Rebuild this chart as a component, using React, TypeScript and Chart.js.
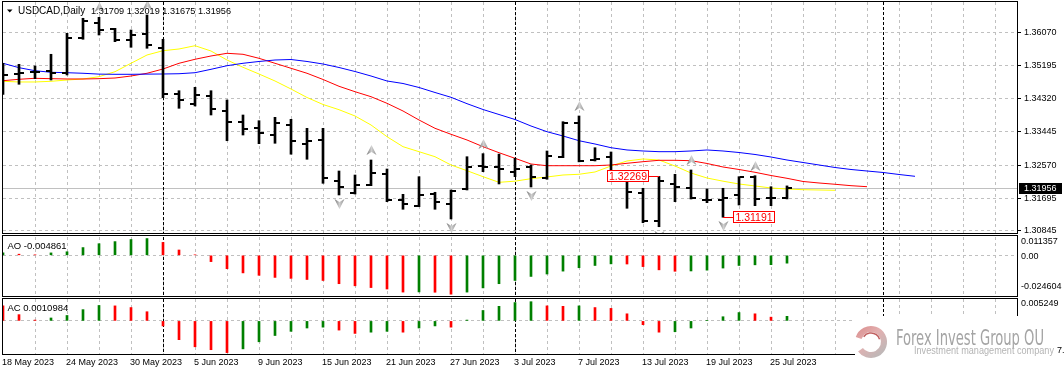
import React, { useEffect, useRef } from 'react';
import { Chart, registerables } from 'chart.js';

Chart.register(...registerables);

const FONT = "'Liberation Sans', Arial, sans-serif";
const GRID = '#c0c0c0';
const UP = '#008000';
const DOWN = '#ff0000';

const SYMBOL = 'USDCAD';
const TIMEFRAME = 'Daily';

// one label every 4 bars, starting at bar 0
const dateLabels = ['18 May 2023', '24 May 2023', '30 May 2023', '5 Jun 2023', '9 Jun 2023', '15 Jun 2023', '21 Jun 2023', '27 Jun 2023', '3 Jul 2023', '7 Jul 2023', '13 Jul 2023', '19 Jul 2023', '25 Jul 2023'];

const opens = [1.34938, 1.34991, 1.35039, 1.35065, 1.35012, 1.35938, 1.36334, 1.36160, 1.35877, 1.36036,
  1.35673, 1.34449, 1.34193, 1.34396, 1.34008, 1.33701, 1.33545, 1.33352, 1.33624, 1.33140,
  1.33225, 1.32157, 1.31839, 1.32043, 1.32326, 1.31646, 1.31496, 1.31805, 1.31541, 1.31929,
  1.32553, 1.32527, 1.32395, 1.32532, 1.32241, 1.32791, 1.33674, 1.32704, 1.32776, 1.32255,
  1.31839, 1.31091, 1.32062, 1.31972, 1.31646, 1.31650, 1.31779, 1.32263, 1.31691, 1.31709];
const highs = [1.35261, 1.35234, 1.35190, 1.35499, 1.36054, 1.36451, 1.36477, 1.36186, 1.36141, 1.36538,
  1.35896, 1.34536, 1.34626, 1.34536, 1.34291, 1.33894, 1.33743, 1.33833, 1.33780, 1.33542,
  1.33542, 1.32413, 1.32307, 1.32704, 1.32466, 1.31797, 1.32263, 1.31850, 1.31911, 1.32791,
  1.32872, 1.32860, 1.32749, 1.32572, 1.32942, 1.33717, 1.33868, 1.33029, 1.32916, 1.32263,
  1.31956, 1.32269, 1.32326, 1.32440, 1.31937, 1.31956, 1.32263, 1.32289, 1.31998, 1.32019];
const lows = [1.34441, 1.34706, 1.34854, 1.34819, 1.34952, 1.35896, 1.36009, 1.35832, 1.35684, 1.35658,
  1.34351, 1.34071, 1.34132, 1.33894, 1.33214, 1.33365, 1.33135, 1.33146, 1.32857, 1.32723,
  1.32088, 1.31779, 1.31805, 1.32025, 1.31602, 1.31401, 1.31469, 1.31401, 1.31144, 1.31911,
  1.32395, 1.32070, 1.32263, 1.31990, 1.32194, 1.32765, 1.32655, 1.32678, 1.32263, 1.31427,
  1.31046, 1.30940, 1.31602, 1.31673, 1.31575, 1.31191, 1.31514, 1.31496, 1.31496, 1.31675];
const closes = [1.34944, 1.35004, 1.35044, 1.35012, 1.35922, 1.36379, 1.36141, 1.35877, 1.36009, 1.35737,
  1.34449, 1.34291, 1.34423, 1.34045, 1.33709, 1.33532, 1.33410, 1.33688, 1.33199, 1.33199,
  1.32241, 1.31982, 1.32035, 1.32352, 1.31646, 1.31533, 1.31779, 1.31586, 1.31892, 1.32527,
  1.32527, 1.32474, 1.32458, 1.32247, 1.32810, 1.33674, 1.32665, 1.32723, 1.32281, 1.31850,
  1.31091, 1.32149, 1.31998, 1.31691, 1.31650, 1.31691, 1.32247, 1.31673, 1.31707, 1.31956];

// Alligator lines (already shifted into the future)
const jaw = [1.35261, 1.35145, 1.35065, 1.35023, 1.35012, 1.34997, 1.34975, 1.34970, 1.34970, 1.34975,
  1.34978, 1.34985, 1.35012, 1.35102, 1.35197, 1.35261, 1.35309, 1.35348, 1.35361, 1.35309,
  1.35242, 1.35150, 1.35044, 1.34925, 1.34793, 1.34727, 1.34621, 1.34489, 1.34362, 1.34193,
  1.34039, 1.33907, 1.33775, 1.33603, 1.33452, 1.33339, 1.33214, 1.33127, 1.33029, 1.32969,
  1.32942, 1.32924, 1.32924, 1.32942, 1.32969, 1.32942, 1.32902, 1.32850, 1.32783, 1.32704,
  1.32638, 1.32572, 1.32506, 1.32453, 1.32413, 1.32374, 1.32321, 1.32273];
const teeth = [1.34801, 1.34838, 1.34864, 1.34854, 1.34846, 1.34846, 1.34854, 1.34872, 1.34925, 1.34997,
  1.35110, 1.35261, 1.35367, 1.35454, 1.35525, 1.35499, 1.35393, 1.35261, 1.35129, 1.34997,
  1.34833, 1.34653, 1.34510, 1.34378, 1.34203, 1.34000, 1.33762, 1.33542, 1.33384, 1.33233,
  1.33056, 1.32897, 1.32749, 1.32598, 1.32553, 1.32553, 1.32553, 1.32553, 1.32572, 1.32617,
  1.32659, 1.32696, 1.32696, 1.32686, 1.32612, 1.32519, 1.32453, 1.32379, 1.32294, 1.32220,
  1.32136, 1.32096, 1.32062, 1.32025, 1.31998];
const lips = [1.34785, 1.34767, 1.34767, 1.34785, 1.34819, 1.34846, 1.34907, 1.35039, 1.35261, 1.35480,
  1.35594, 1.35639, 1.35726, 1.35586, 1.35348, 1.35155, 1.34978, 1.34793, 1.34581, 1.34357,
  1.34172, 1.34034, 1.33868, 1.33630, 1.33320, 1.33056, 1.32924, 1.32791, 1.32572, 1.32421,
  1.32263, 1.32114, 1.32144, 1.32210, 1.32255, 1.32307, 1.32326, 1.32387, 1.32545, 1.32678,
  1.32731, 1.32704, 1.32545, 1.32360, 1.32228, 1.32144, 1.32070, 1.32017, 1.31964, 1.31937,
  1.31919, 1.31911, 1.31903];

const aoValues = [0.0015, 0.0007, 0.0003, 0.0015, 0.0022, 0.0048, 0.0072, 0.0085, 0.0098, 0.0104,
  0.0080, 0.0033, 0.0003, -0.0039, -0.0083, -0.0109, -0.0124, -0.0137, -0.0143, -0.0150,
  -0.0156, -0.0176, -0.0189, -0.0200, -0.0209, -0.0228, -0.0227, -0.0229, -0.0241, -0.0228,
  -0.0202, -0.0176, -0.0156, -0.0131, -0.0116, -0.0098, -0.0077, -0.0063, -0.0053, -0.0054,
  -0.0070, -0.0090, -0.0099, -0.0097, -0.0092, -0.0079, -0.0063, -0.0059, -0.0058, -0.004861];
const acValues = [0.0036, 0.0015, 0.0002, 0.0007, 0.0013, 0.0027, 0.0037, 0.0036, 0.0032, 0.0022,
  -0.0012, -0.0045, -0.0062, -0.0069, -0.0076, -0.0067, -0.0050, -0.0035, -0.0025, -0.0017,
  -0.0015, -0.0022, -0.0030, -0.0027, -0.0025, -0.0027, -0.0017, -0.0012, -0.0015, 0.0002,
  0.0025, 0.0035, 0.0044, 0.0046, 0.0036, 0.0035, 0.0036, 0.0032, 0.0030, 0.0017,
  -0.0009, -0.0027, -0.0026, -0.0017, 0.0001, 0.0010, 0.0020, 0.0017, 0.0009, 0.0010984];
const aoFirstUp = true;
const acFirstUp = false;

const priceTicks = [1.36070, 1.35195, 1.34320, 1.33445, 1.32570, 1.31695, 1.30845];
const priceRange = [1.307738, 1.368817];
const aoRange = [-0.024604, 0.011357];
const acRange = [-0.00793, 0.005249];
const aoAxisLabels = ['0.011357', '0.00', '-0.024604'];
const acAxisLabels = ['0.005249'];

const fractalUpBars = [6, 9, 23, 30, 36, 43, 47];
const fractalDownBars = [21, 28, 33, 41, 45];
const monthStartBars = [10, 32, 55];
const swingHighBar = 41;
const swingLowBar = 45;

const LAST = closes.length - 1;
const currentPrice = closes[LAST];
const X_MAX = 63.375;
const AXIS_W = 47;

function zeroPad(s: any) {
  s.paddingTop = 0; s.paddingBottom = 0; s.paddingLeft = 0; s.paddingRight = 0;
}

function makeX(showLabels: boolean) {
  return {
    type: 'linear', min: 0, max: X_MAX, offset: false, display: true,
    afterBuildTicks: (s: any) => {
      const t: any[] = [];
      for (let v = 0; v <= 62; v += 2) t.push({ value: v });
      s.ticks = t;
    },
    afterFit: (s: any) => { s.height = showLabels ? 18 : 0; zeroPad(s); },
    grid: {
      color: (c: any) => (c.tick && c.tick.value === 0 ? 'rgba(0,0,0,0)' : GRID),
      lineWidth: 1, drawTicks: false, offset: false,
    },
    border: { display: false, dash: [3, 3] },
    ticks: showLabels
      ? {
          display: true, autoSkip: false, maxRotation: 0, minRotation: 0, align: 'start', padding: 3,
          labelOffset: -1,
          color: '#000', font: { family: FONT, size: 9 },
          callback: (v: any) => (v % 4 === 0 && dateLabels[v / 4]) ? dateLabels[v / 4] : '',
        }
      : { display: false },
  };
}

function makeYSub(range: number[]) {
  return {
    type: 'linear', position: 'right', min: range[0], max: range[1], beginAtZero: false, display: true,
    afterBuildTicks: (s: any) => { s.ticks = [{ value: 0 }]; },
    afterFit: (s: any) => { s.width = AXIS_W; zeroPad(s); },
    grid: { color: GRID, drawTicks: false },
    border: { display: false, dash: [3, 3] },
    ticks: { display: false },
  };
}

function drawBorder(ctx: CanvasRenderingContext2D, top: number, bottom: number) {
  ctx.fillStyle = '#000';
  ctx.fillRect(2, top, 1016, 1);
  ctx.fillRect(2, bottom, 1016, 1);
  ctx.fillRect(2, top, 1, bottom - top + 1);
  ctx.fillRect(1017, top, 1, bottom - top + 1);
}

function drawSeparators(chart: any) {
  const { ctx, chartArea: a, scales } = chart;
  ctx.save();
  ctx.strokeStyle = '#000';
  ctx.lineWidth = 1;
  ctx.setLineDash([3, 2]);
  for (const idx of monthStartBars) {
    const px = Math.round(scales.x.getPixelForValue(idx)) + 0.5;
    ctx.beginPath();
    ctx.moveTo(px, a.top);
    ctx.lineTo(px, a.bottom);
    ctx.stroke();
  }
  ctx.restore();
}

function tickImage(side: 'left' | 'right') {
  const c = document.createElement('canvas');
  c.width = 12; c.height = 2;
  const g = c.getContext('2d')!;
  g.fillStyle = '#000';
  g.fillRect(side === 'left' ? 1 : 7, 0, 4, 2);
  return c;
}

function arrowImage(dir: 'up' | 'down') {
  const c = document.createElement('canvas');
  c.width = 11; c.height = 30;
  const g = c.getContext('2d')!;
  g.beginPath();
  if (dir === 'up') {
    g.moveTo(5.5, 0); g.lineTo(10.5, 10); g.lineTo(5.5, 7); g.lineTo(0.5, 10);
  } else {
    const t = 19;
    g.moveTo(5.5, t + 10); g.lineTo(10.5, t); g.lineTo(5.5, t + 3); g.lineTo(0.5, t);
  }
  g.closePath();
  const grad = g.createLinearGradient(0, 0, 11, 0);
  grad.addColorStop(0, '#6a6a6a');
  grad.addColorStop(0.5, '#d0d0d0');
  grad.addColorStop(1, '#8a8a8a');
  g.fillStyle = grad;
  g.fill();
  return c;
}

function colorsFor(values: number[], firstUp: boolean) {
  return values.map((v, i) => (i === 0 ? (firstUp ? UP : DOWN) : (v >= values[i - 1] ? UP : DOWN)));
}

const baseOptions = (padBottom: number) => ({
  responsive: false,
  animation: false,
  devicePixelRatio: 1,
  events: [],
  layout: { autoPadding: false, padding: { left: 3, top: 2, right: 0, bottom: padBottom } },
  plugins: { legend: { display: false }, tooltip: { enabled: false } },
});

function makeMain(canvas: HTMLCanvasElement) {
  const tickL = tickImage('left');
  const tickR = tickImage('right');
  const arrUp = arrowImage('up');
  const arrDn = arrowImage('down');
  const pts = (arr: number[]) => arr.map((v, i) => ({ x: i, y: v }));

  const deco = {
    id: 'mainDeco',
    beforeDatasetsDraw(chart: any) {
      const { ctx, chartArea: a, scales } = chart;
      ctx.imageSmoothingEnabled = false;
      ctx.save();
      const py = Math.round(scales.y.getPixelForValue(currentPrice)) + 0.5;
      ctx.strokeStyle = GRID;
      ctx.lineWidth = 1;
      ctx.beginPath();
      ctx.moveTo(a.left, py);
      ctx.lineTo(a.right, py);
      ctx.stroke();
      ctx.restore();
      drawSeparators(chart);
    },
    afterDraw(chart: any) {
      const { ctx, scales } = chart;
      const x = scales.x, y = scales.y;
      ctx.save();
      drawBorder(ctx, 1, 233);
      // header
      ctx.fillStyle = '#000';
      ctx.beginPath();
      ctx.moveTo(7, 9.5); ctx.lineTo(12.5, 9.5); ctx.lineTo(9.75, 12.5); ctx.closePath(); ctx.fill();
      ctx.textAlign = 'left';
      ctx.textBaseline = 'alphabetic';
      ctx.font = `10px ${FONT}`;
      ctx.fillText(`${SYMBOL},${TIMEFRAME}`, 18, 14);
      ctx.font = `9.5px ${FONT}`;
      ctx.fillText([opens[LAST], highs[LAST], lows[LAST], closes[LAST]].map((v) => v.toFixed(5)).join(' '), 91, 14, 140);

      // swing labels
      const tag = (text: string, barX: number, py: number, toLeft: boolean) => {
        ctx.fillStyle = '#ff0000';
        const lineStart = toLeft ? barX - 10 : barX;
        ctx.fillRect(lineStart, py, 10, 1);
        const left = toLeft ? barX - 10 - 42 : barX + 10;
        ctx.fillStyle = '#fff';
        ctx.fillRect(left, py - 6, 42, 12);
        ctx.strokeStyle = '#ff0000';
        ctx.lineWidth = 1;
        ctx.strokeRect(left + 0.5, py - 5.5, 41, 11);
        ctx.fillStyle = '#ff0000';
        ctx.font = `10.5px ${FONT}`;
        ctx.textAlign = 'center';
        ctx.textBaseline = 'middle';
        ctx.fillText(text, left + 21, py + 1);
      };
      tag(highs[swingHighBar].toFixed(5), Math.round(x.getPixelForValue(swingHighBar)), Math.round(y.getPixelForValue(highs[swingHighBar])), true);
      tag(lows[swingLowBar].toFixed(5), Math.round(x.getPixelForValue(swingLowBar)), Math.round(y.getPixelForValue(lows[swingLowBar])), false);

      // current price box
      const cy = Math.round(y.getPixelForValue(currentPrice));
      ctx.fillStyle = '#000';
      ctx.fillRect(1019, cy - 5, 43, 11);
      ctx.fillStyle = '#fff';
      ctx.font = `9px ${FONT}`;
      ctx.textAlign = 'left';
      ctx.textBaseline = 'middle';
      ctx.fillText(currentPrice.toFixed(5), 1024, cy + 0.5);
      ctx.restore();
    },
  };

  return new Chart(canvas, {
    type: 'bar',
    data: {
      datasets: [
        { type: 'bar', data: highs.map((h, i) => ({ x: i, y: [lows[i], h] })), backgroundColor: '#000', borderWidth: 0, barThickness: 2, order: 1, clip: 0 } as any,
        { type: 'scatter', data: pts(opens), pointStyle: tickL, pointRadius: 3, order: 0, clip: 0 } as any,
        { type: 'scatter', data: pts(closes), pointStyle: tickR, pointRadius: 3, order: 0, clip: 0 } as any,
        { type: 'line', data: pts(jaw), borderColor: '#0000ff', borderWidth: 1, pointRadius: 0, tension: 0, fill: false, order: 3, clip: 0 } as any,
        { type: 'line', data: pts(teeth), borderColor: '#ff0000', borderWidth: 1, pointRadius: 0, tension: 0, fill: false, order: 3, clip: 0 } as any,
        { type: 'line', data: pts(lips), borderColor: '#ffff00', borderWidth: 1, pointRadius: 0, tension: 0, fill: false, order: 3, clip: 0 } as any,
        { type: 'scatter', data: fractalUpBars.map((i) => ({ x: i, y: highs[i] })), pointStyle: arrUp, pointRadius: 3, order: 2, clip: 0 } as any,
        { type: 'scatter', data: fractalDownBars.map((i) => ({ x: i, y: lows[i] })), pointStyle: arrDn, pointRadius: 3, order: 2, clip: 0 } as any,
      ],
    },
    options: {
      ...baseOptions(2),
      scales: {
        x: makeX(false),
        y: {
          type: 'linear', position: 'right', min: priceRange[0], max: priceRange[1], beginAtZero: false,
          afterBuildTicks: (s: any) => { s.ticks = priceTicks.map((v) => ({ value: v })); },
          afterFit: (s: any) => { s.width = AXIS_W; zeroPad(s); },
          grid: { color: GRID, drawTicks: true, tickLength: 4, tickColor: '#000', tickBorderDash: [], tickWidth: 1 },
          border: { display: false, dash: [3, 3] },
          ticks: { autoSkip: false, color: '#000', font: { family: FONT, size: 9 }, padding: 3, callback: (v: any) => Number(v).toFixed(5) },
        },
      },
    } as any,
    plugins: [deco],
  });
}

function makeOsc(canvas: HTMLCanvasElement, values: number[], firstUp: boolean, range: number[], name: string, digits: number,
  axisLabels: string[], axisLabelYs: number[], border: number[], showDates: boolean, padBottom: number, logo: boolean) {
  const deco = {
    id: 'oscDeco' + name,
    beforeDatasetsDraw(chart: any) { drawSeparators(chart); },
    afterDraw(chart: any) {
      const { ctx } = chart;
      ctx.save();
      drawBorder(ctx, border[0], border[1]);
      ctx.fillStyle = '#000';
      ctx.font = `9.5px ${FONT}`;
      ctx.textAlign = 'left';
      ctx.textBaseline = 'alphabetic';
      ctx.fillText(`${name} ${values[values.length - 1].toFixed(digits)}`, 7.5, 14);
      ctx.font = `9px ${FONT}`;
      ctx.textBaseline = 'middle';
      axisLabels.forEach((t, i) => ctx.fillText(t, 1021, axisLabelYs[i]));
      if (logo) {
        ctx.fillStyle = '#fff';
        ctx.fillRect(855, 19, 209, 56);
        const cx = 871, cy = 45;
        const g = ctx.createLinearGradient(cx - 16, cy - 16, cx + 10, cy + 16);
        g.addColorStop(0, '#d98a8a');
        g.addColorStop(0.45, '#e3b0b0');
        g.addColorStop(1, '#b9b9b9');
        ctx.lineWidth = 6;
        ctx.strokeStyle = g;
        ctx.beginPath();
        ctx.arc(cx, cy, 13, -Math.PI * 0.9, Math.PI * 0.8);
        ctx.stroke();
        ctx.lineWidth = 1.5;
        ctx.strokeStyle = '#c06060';
        ctx.beginPath();
        ctx.arc(cx, cy, 9, -Math.PI * 0.8, -Math.PI * 0.1);
        ctx.stroke();
        ctx.textBaseline = 'alphabetic';
        ctx.fillStyle = '#a4a4a4';
        ctx.font = `22px 'Liberation Sans Narrow', 'DejaVu Sans Condensed', ${FONT}`;
        ctx.fillText('Forex Invest Group OU', 896, 48, 148);
        ctx.fillStyle = '#b4b4b4';
        ctx.font = `10px ${FONT}`;
        ctx.fillText('Investment management company', 914, 57, 140);
        ctx.fillStyle = '#000';
        ctx.font = `9px ${FONT}`;
        ctx.fillText('7.', 1057, 56);
      }
      ctx.restore();
    },
  };
  return new Chart(canvas, {
    type: 'bar',
    data: {
      datasets: [
        { type: 'bar', data: values.map((v, i) => ({ x: i, y: v })), backgroundColor: colorsFor(values, firstUp), borderWidth: 0, barThickness: 2, clip: 0 } as any,
      ],
    },
    options: {
      ...baseOptions(padBottom),
      scales: { x: makeX(showDates), y: makeYSub(range) },
    } as any,
    plugins: [deco],
  });
}

export default function App() {
  const mainRef = useRef<HTMLCanvasElement>(null);
  const aoRef = useRef<HTMLCanvasElement>(null);
  const acRef = useRef<HTMLCanvasElement>(null);

  useEffect(() => {
    Chart.defaults.font.family = FONT;
    const charts = [
      makeMain(mainRef.current!),
      makeOsc(aoRef.current!, aoValues, aoFirstUp, aoRange, 'AO', 6, aoAxisLabels, [7, 22, 52], [0, 61], false, 2, false),
      makeOsc(acRef.current!, acValues, acFirstUp, acRange, 'AC', 7, acAxisLabels, [7], [1, 57], true, 0, true),
    ];
    return () => charts.forEach((c) => c.destroy());
  }, []);

  const cs = (top: number, h: number): React.CSSProperties => ({ position: 'absolute', left: 0, top, width: 1064, height: h });
  return (
    <div style={{ position: 'fixed', left: 0, top: 0, width: 1064, height: 372, background: '#fff', overflow: 'hidden' }}>
      <canvas ref={mainRef} width={1064} height={235} style={cs(0, 235)} />
      <canvas ref={aoRef} width={1064} height={62} style={cs(235, 62)} />
      <canvas ref={acRef} width={1064} height={75} style={cs(297, 75)} />
    </div>
  );
}
